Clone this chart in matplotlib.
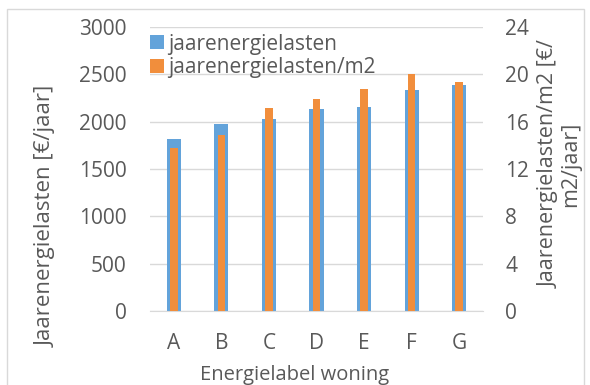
import matplotlib
matplotlib.use("Agg")
import matplotlib.pyplot as plt
from matplotlib.patches import Rectangle
import numpy as np

categories = ["A", "B", "C", "D", "E", "F", "G"]
jaarenergielasten = [1817, 1975, 2031, 2130, 2151, 2338, 2384]
jaarenergielasten_m2 = [13.8, 14.85, 17.13, 17.94, 18.76, 20.05, 19.35]
left_ticks = [0, 500, 1000, 1500, 2000, 2500, 3000]
right_ticks = [0, 4, 8, 12, 16, 20, 24]

plt.rcParams['font.family'] = ['Open Sans', 'DejaVu Sans']
txt = '#595959'
blue = '#63A3DA'
orange = '#F18E3C'

W, H = 590, 385
fig = plt.figure(figsize=(5.9, 3.85), dpi=100)
ax = fig.add_axes([150/W, 1-311/H, 333/W, 284/H])
ax2 = ax.twinx()

x = np.arange(len(categories))
b1 = ax.bar(x, jaarenergielasten, width=0.3, color=blue, zorder=2, label='jaarenergielasten')
b2 = ax2.bar(x, jaarenergielasten_m2, width=0.16, color=orange, zorder=3, label='jaarenergielasten/m2')

ax.set_ylim(0, 3000)
ax2.set_ylim(0, 24)
ax.set_xlim(-0.5, len(categories)-0.5)
ax.set_yticks(left_ticks)
ax2.set_yticks(right_ticks)
ax.set_xticks(x)
ax.set_xticklabels(categories)
ax.yaxis.grid(True, color='#D9D9D9', linewidth=1, zorder=0)
ax.set_axisbelow(True)
for a in (ax, ax2):
    for s in a.spines.values():
        s.set_visible(False)
    a.tick_params(length=0, labelsize=15, colors=txt)
ax.spines['bottom'].set_visible(True)
ax.spines['bottom'].set_color('#D9D9D9')
ax.tick_params(axis='x', pad=16)
ax.tick_params(axis='y', pad=17)
ax2.tick_params(axis='y', pad=16)

ax.set_ylabel('Jaarenergielasten [€/jaar]', fontsize=16, color=txt, va='center')
ax.yaxis.set_label_coords((46-150)/333, (311-216)/284)
ax2.set_ylabel('Jaarenergielasten/m2 [€/\nm2/jaar]', fontsize=15.5, color=txt,
               va='center', linespacing=1.0)
ax2.yaxis.set_label_coords((560-150)/333, (311-164)/284)
ax.set_xlabel('Energielabel woning', fontsize=14.5, color=txt, va='center')
ax.xaxis.set_label_coords((294.5-150)/333, (311-375)/284)

leg = ax.legend(handles=[b1, b2], loc='upper left', bbox_to_anchor=(0.0, 0.977),
                frameon=False, fontsize=15, handlelength=0.65, handleheight=0.65,
                handletextpad=0.2, labelspacing=0.12, borderaxespad=0, borderpad=0)
for t in leg.get_texts():
    t.set_color(txt)

fig.patches.append(Rectangle((7/W, -5/H), 577/W, (H-9+5)/H, transform=fig.transFigure,
                             fill=False, edgecolor='#D9D9D9', linewidth=1))
fig.savefig('out.png', dpi=100)
